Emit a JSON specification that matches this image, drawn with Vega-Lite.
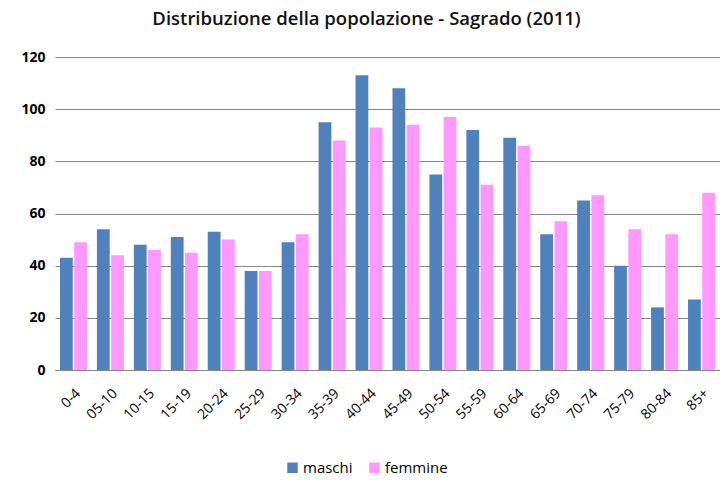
{
  "$schema": "https://vega.github.io/schema/vega-lite/v6.json",
  "autosize": {"type": "none"},
  "width": 665,
  "height": 313,
  "padding": {"left": 55, "top": 57, "right": 0, "bottom": 111},
  "background": "white",
  "title": {
    "text": "Distribuzione della popolazione - Sagrado (2011)",
    "font": "Open Sans",
    "fontSize": 18.5,
    "fontWeight": 600,
    "color": "#111111",
    "offset": 22,
    "dx": -21,
    "anchor": "middle"
  },
  "config": {
    "view": {"stroke": null},
    "font": "Open Sans"
  },
  "data": {
    "values": [
      {"eta": "0-4", "sesso": "maschi", "n": 43},
      {"eta": "0-4", "sesso": "femmine", "n": 49},
      {"eta": "05-10", "sesso": "maschi", "n": 54},
      {"eta": "05-10", "sesso": "femmine", "n": 44},
      {"eta": "10-15", "sesso": "maschi", "n": 48},
      {"eta": "10-15", "sesso": "femmine", "n": 46},
      {"eta": "15-19", "sesso": "maschi", "n": 51},
      {"eta": "15-19", "sesso": "femmine", "n": 45},
      {"eta": "20-24", "sesso": "maschi", "n": 53},
      {"eta": "20-24", "sesso": "femmine", "n": 50},
      {"eta": "25-29", "sesso": "maschi", "n": 38},
      {"eta": "25-29", "sesso": "femmine", "n": 38},
      {"eta": "30-34", "sesso": "maschi", "n": 49},
      {"eta": "30-34", "sesso": "femmine", "n": 52},
      {"eta": "35-39", "sesso": "maschi", "n": 95},
      {"eta": "35-39", "sesso": "femmine", "n": 88},
      {"eta": "40-44", "sesso": "maschi", "n": 113},
      {"eta": "40-44", "sesso": "femmine", "n": 93},
      {"eta": "45-49", "sesso": "maschi", "n": 108},
      {"eta": "45-49", "sesso": "femmine", "n": 94},
      {"eta": "50-54", "sesso": "maschi", "n": 75},
      {"eta": "50-54", "sesso": "femmine", "n": 97},
      {"eta": "55-59", "sesso": "maschi", "n": 92},
      {"eta": "55-59", "sesso": "femmine", "n": 71},
      {"eta": "60-64", "sesso": "maschi", "n": 89},
      {"eta": "60-64", "sesso": "femmine", "n": 86},
      {"eta": "65-69", "sesso": "maschi", "n": 52},
      {"eta": "65-69", "sesso": "femmine", "n": 57},
      {"eta": "70-74", "sesso": "maschi", "n": 65},
      {"eta": "70-74", "sesso": "femmine", "n": 67},
      {"eta": "75-79", "sesso": "maschi", "n": 40},
      {"eta": "75-79", "sesso": "femmine", "n": 54},
      {"eta": "80-84", "sesso": "maschi", "n": 24},
      {"eta": "80-84", "sesso": "femmine", "n": 52},
      {"eta": "85+", "sesso": "maschi", "n": 27},
      {"eta": "85+", "sesso": "femmine", "n": 68}
    ]
  },
  "mark": {"type": "bar"},
  "encoding": {
    "x": {
      "field": "eta",
      "type": "nominal",
      "sort": null,
      "scale": {"paddingInner": 0, "paddingOuter": 0},
      "axis": {
        "title": null,
        "labelAngle": -45,
        "labelFontSize": 14,
        "labelColor": "#000000",
        "labelPadding": 16,
        "labelOverlap": false,
        "ticks": false,
        "domainColor": "#868686",
        "grid": false
      }
    },
    "xOffset": {
      "field": "sesso",
      "type": "nominal",
      "sort": ["maschi", "femmine"],
      "scale": {"paddingInner": 0.1, "paddingOuter": 0.35}
    },
    "y": {
      "field": "n",
      "type": "quantitative",
      "scale": {"domain": [0, 120]},
      "axis": {
        "title": null,
        "values": [0, 20, 40, 60, 80, 100, 120],
        "labelFontSize": 14,
        "labelFontWeight": "bold",
        "labelColor": "#000000",
        "labelPadding": 10,
        "ticks": false,
        "domain": false,
        "gridColor": "#868686",
        "gridWidth": 1
      }
    },
    "color": {
      "field": "sesso",
      "type": "nominal",
      "sort": ["maschi", "femmine"],
      "scale": {"domain": ["maschi", "femmine"], "range": ["#4F81BD", "#FF99FF"]},
      "legend": {
        "title": null,
        "orient": "none",
        "direction": "horizontal",
        "legendX": 230,
        "legendY": 403,
        "symbolType": "square",
        "symbolSize": 110,
        "symbolStrokeWidth": 0,
        "labelFontSize": 15,
        "labelColor": "#000000",
        "columnPadding": 14,
        "labelOffset": 3
      }
    }
  }
}
